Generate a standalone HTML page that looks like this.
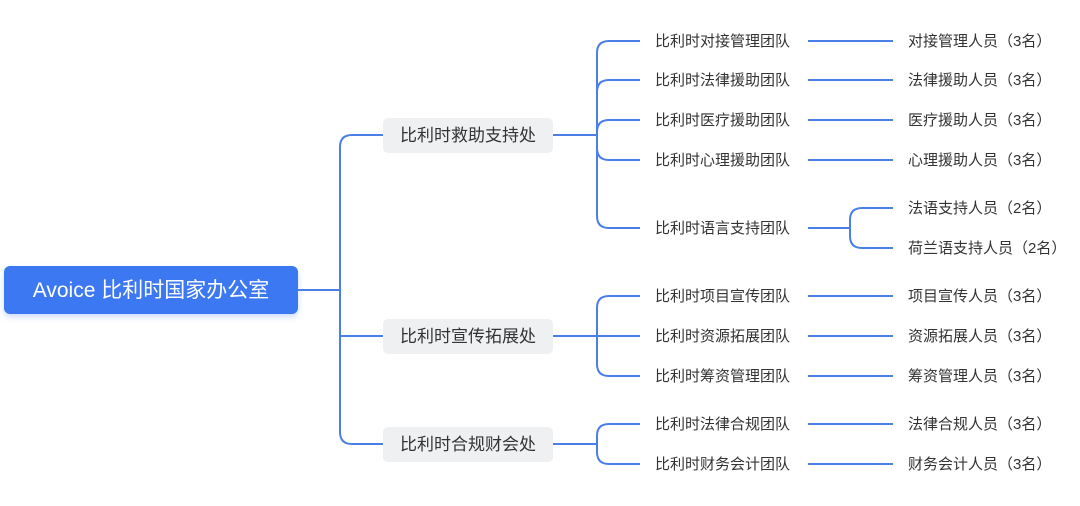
<!DOCTYPE html>
<html><head><meta charset="utf-8"><style>
html,body{margin:0;padding:0;background:#fff;}
svg text{font-family:"Liberation Sans","Noto Sans CJK SC",sans-serif;}
</style></head><body>
<svg width="1080" height="501" viewBox="0 0 1080 501" xmlns="http://www.w3.org/2000/svg">
<defs><filter id="sh" x="-10%" y="-30%" width="120%" height="170%"><feDropShadow dx="0" dy="3" stdDeviation="3" flood-color="#3a78f2" flood-opacity="0.25"/></filter></defs>
<g fill="none" stroke="#4a7fe8" stroke-width="2">
<path d="M298 290H340"/>
<path d="M383 135H352Q340 135 340 147V432Q340 444 352 444H383"/>
<path d="M340 336H383"/>
<path d="M553 135H597"/>
<path d="M640 41H609Q597 41 597 53V216Q597 228 609 228H640"/>
<path d="M640 80H609Q597 80 597 92"/>
<path d="M640 120H609Q597 120 597 132"/>
<path d="M640 160H609Q597 160 597 148"/>
<path d="M553 336H640"/>
<path d="M640 296H609Q597 296 597 308V364Q597 376 609 376H640"/>
<path d="M553 444H597"/>
<path d="M640 424H609Q597 424 597 436V452Q597 464 609 464H640"/>
<path d="M808 41H893M808 80H893M808 120H893M808 160H893M808 296H893M808 336H893M808 376H893M808 424H893M808 464H893"/>
<path d="M808 228H850"/>
<path d="M893 208H862Q850 208 850 220V236Q850 248 862 248H893"/>
</g>
<rect x="4" y="266" width="294" height="48" rx="6" fill="#3a78f2" filter="url(#sh)"/>
<text x="151" y="297" font-size="21" fill="#fff" text-anchor="middle">Avoice 比利时国家办公室</text>
<g fill="#eff0f2">
<rect x="383" y="118" width="170" height="35" rx="5"/>
<rect x="383" y="319" width="170" height="35" rx="5"/>
<rect x="383" y="427" width="170" height="35" rx="5"/>
</g>
<g font-size="17" fill="#333" text-anchor="middle">
<text x="468" y="141">比利时救助支持处</text>
<text x="468" y="342">比利时宣传拓展处</text>
<text x="468" y="450">比利时合规财会处</text>
</g>
<g font-size="15" fill="#333">
<text x="655" y="46">比利时对接管理团队</text>
<text x="655" y="85">比利时法律援助团队</text>
<text x="655" y="125">比利时医疗援助团队</text>
<text x="655" y="165">比利时心理援助团队</text>
<text x="655" y="233">比利时语言支持团队</text>
<text x="655" y="301">比利时项目宣传团队</text>
<text x="655" y="341">比利时资源拓展团队</text>
<text x="655" y="381">比利时筹资管理团队</text>
<text x="655" y="429">比利时法律合规团队</text>
<text x="655" y="469">比利时财务会计团队</text>
<text x="908" y="46">对接管理人员（3名）</text>
<text x="908" y="85">法律援助人员（3名）</text>
<text x="908" y="125">医疗援助人员（3名）</text>
<text x="908" y="165">心理援助人员（3名）</text>
<text x="908" y="213">法语支持人员（2名）</text>
<text x="908" y="253">荷兰语支持人员（2名）</text>
<text x="908" y="301">项目宣传人员（3名）</text>
<text x="908" y="341">资源拓展人员（3名）</text>
<text x="908" y="381">筹资管理人员（3名）</text>
<text x="908" y="429">法律合规人员（3名）</text>
<text x="908" y="469">财务会计人员（3名）</text>
</g>
</svg>
</body></html>
